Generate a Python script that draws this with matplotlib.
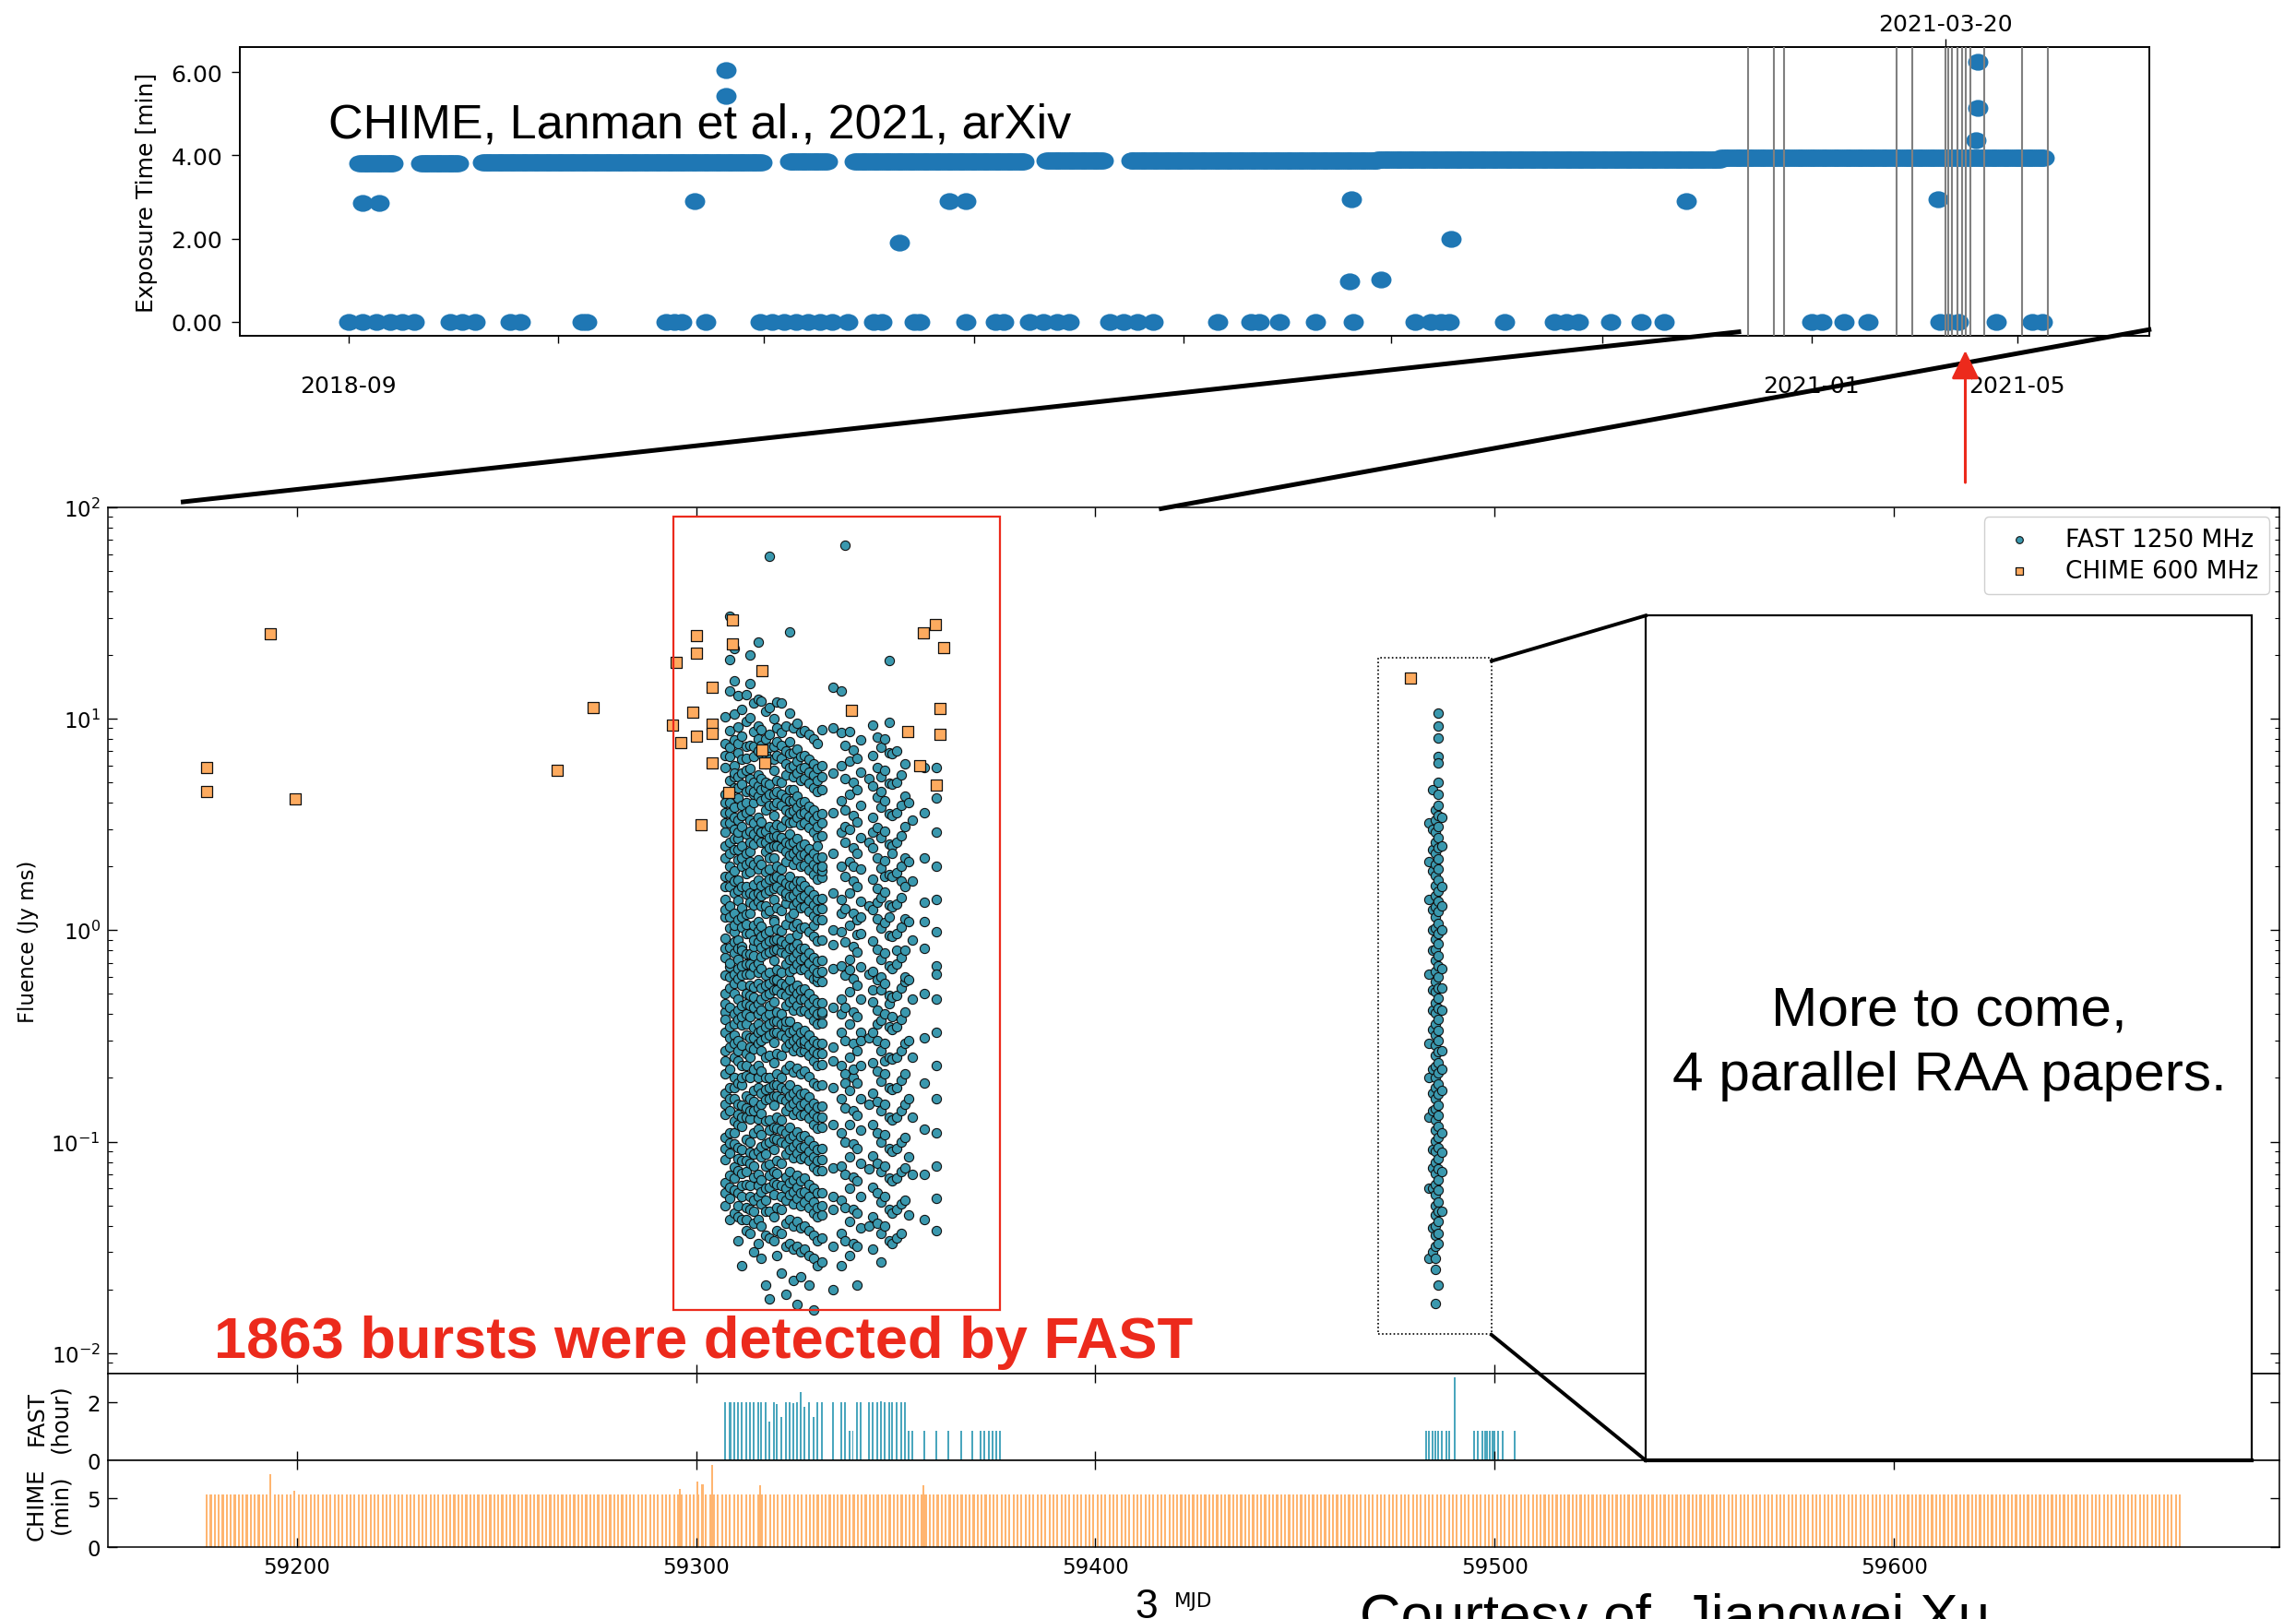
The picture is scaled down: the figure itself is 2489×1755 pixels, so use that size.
import numpy as np
import pandas as pd
import matplotlib
matplotlib.use("Agg")
import matplotlib.pyplot as plt
import matplotlib.dates as mdates
from matplotlib.lines import Line2D
from matplotlib.patches import Rectangle, FancyArrowPatch
from matplotlib.path import Path
from matplotlib.ticker import (FixedLocator, LogLocator, NullFormatter, NullLocator,
                               FuncFormatter)

# ============================ DATA ============================
# ---- top panel: CHIME daily exposure (days counted from TOP_EPOCH) ----
TOP_EPOCH = "2018-09-01"
BAND_START_DAY = [6, 42, 78, 257, 295, 407, 456, 600, 800]
BAND_END_DAY = [26, 64, 241, 279, 394, 440, 600, 800, 989]
BAND_EXPOSURE = [3.80, 3.82, 3.83, 3.85, 3.86, 3.87, 3.88, 3.91, 3.94]
ZERO_DAY = [0, 8, 16, 24, 31, 38, 59, 66, 74, 94, 100, 136, 139, 185, 190, 194, 208,
            240, 247, 254, 261, 268, 275, 282, 291, 306, 311, 330, 333, 360, 377, 382,
            397, 405, 413, 420, 444, 452, 460, 469, 507, 526, 531, 543, 564, 586, 622,
            631, 637, 642, 674, 703, 710, 717, 736, 754, 767, 853, 859, 872, 886, 928,
            933, 939, 961, 982, 988]
OTHER_DAY = [8, 18, 202, 220, 220, 321, 350, 360, 585, 780, 643, 584, 602, 927, 950, 950, 949]
OTHER_EXPOSURE = [2.86, 2.86, 2.90, 6.05, 5.44, 1.90, 2.90, 2.90, 2.95, 2.90, 1.99, 0.98,
                  1.01, 2.95, 6.26, 5.14, 4.36]
BURST_DATES = ["2020-11-25", "2020-12-10", "2020-12-16", "2021-02-20", "2021-03-01",
               "2021-03-20", "2021-03-22", "2021-03-24", "2021-03-27", "2021-03-30",
               "2021-04-01", "2021-04-04", "2021-04-12", "2021-05-04", "2021-05-19"]
TOP_LABELLED_MONTHS = ["2018-09", "2021-01", "2021-05"]
TOP_MARKED_DATE = "2021-03-20"

# ---- main panel: CHIME 600 MHz bursts ----
CHIME_MJD = [59177.4, 59177.4, 59193.5, 59199.7, 59265.2, 59274.3, 59294.1, 59295.1,
             59296.1, 59299.2, 59300.1, 59300.1, 59300.1, 59301.3, 59304.0, 59304.0,
             59304.0, 59304.0, 59309.2, 59309.2, 59308.1, 59316.4, 59316.4, 59317.2,
             59338.9, 59353.0, 59356.1, 59356.9, 59359.9, 59362.0, 59361.0, 59361.0,
             59360.2, 59478.8]
CHIME_FLUENCE = [5.9, 4.52, 25.2, 4.19, 5.7, 11.3, 9.3, 18.4, 7.67, 10.7, 24.8, 20.3, 8.26,
                 3.15, 14.1, 9.4, 8.5, 6.2, 29.2, 22.5, 4.48, 16.9, 7.08, 6.2, 10.9, 8.7,
                 5.97, 25.5, 27.8, 21.7, 11.2, 8.4, 4.86, 15.6]

# ---- main panel: FAST 1250 MHz bursts, grouped by observing day ----
FAST_DAY_MJD = [59307.33, 59308.34, 59309.49, 59310.57, 59311.50, 59312.50, 59313.43,
                59314.35, 59315.51, 59316.36, 59317.36, 59318.28, 59319.44, 59320.29,
                59321.37, 59322.45, 59323.45, 59324.30, 59325.30, 59326.23, 59327.23,
                59328.31, 59329.54, 59330.47, 59331.47, 59334.32, 59336.33, 59337.26,
                59338.41, 59339.26, 59340.34, 59341.26, 59343.27, 59344.20, 59345.28,
                59346.36, 59347.20, 59348.28, 59349.13, 59350.29, 59351.29, 59352.29,
                59353.30, 59354.07, 59357.23, 59360.24,
                59483.54, 59484.39, 59485.01, 59485.86, 59486.78]
FAST_DAY_FLUENCE = [
    [10.2, 7.6, 5.9, 4.4, 3.6, 2.9, 2.2, 1.8, 1.4, 1.15, 0.92, 0.74, 0.61, 0.5, 0.41, 0.33, 0.27, 0.21, 0.17, 0.135, 0.105, 0.082, 0.064, 0.05, 2.5, 0.38, 1.25,
     6.7, 3.2, 1.6, 0.82, 0.45, 0.24, 0.15, 0.093, 0.057, 4.0],
    [30.5, 19.0, 13.5, 8.8, 6.6, 5.1, 4.0, 3.2, 2.6, 2.0, 1.6, 1.3, 1.02, 0.83, 0.67, 0.53, 0.43, 0.35, 0.28, 0.22, 0.18, 0.14, 0.11, 0.088, 0.069, 0.054, 0.043, 0.7, 3.6,
     7.3, 4.5, 2.3, 1.15, 0.6, 0.31, 0.16, 0.099, 0.061, 1.8],
    [21.5, 15.1, 10.5, 7.9, 6.0, 4.7, 3.8, 3.0, 2.4, 1.9, 1.5, 1.2, 0.98, 0.78, 0.62, 0.5, 0.4, 0.32, 0.25, 0.2, 0.16, 0.125, 0.098, 0.076, 0.059, 0.046, 1.05, 0.29, 5.3,
     5.5, 3.4, 1.7, 0.88, 0.56, 0.36, 0.18, 0.11, 0.067, 2.7],
    [12.8, 9.1, 6.9, 5.3, 4.2, 3.3, 2.7, 2.15, 1.72, 1.38, 1.12, 0.9, 0.73, 0.59, 0.47, 0.38, 0.3, 0.24, 0.19, 0.15, 0.12, 0.094, 0.073, 0.057, 0.044, 0.034, 2.4, 0.66,
     7.6, 4.7, 2.9, 1.55, 0.82, 0.42, 0.27, 0.135, 0.083, 0.05],
    [11.0, 8.3, 6.4, 4.9, 3.9, 3.1, 2.5, 2.0, 1.6, 1.28, 1.03, 0.84, 0.68, 0.55, 0.44, 0.355, 0.285, 0.23, 0.185, 0.148, 0.118, 0.092, 0.071, 0.055, 0.043, 0.026, 0.8, 3.5,
     5.5, 3.5, 2.2, 1.15, 0.61, 0.39, 0.2, 0.13, 0.081, 0.062],
    [13.0, 9.7, 7.4, 5.7, 4.5, 3.6, 2.85, 2.3, 1.85, 1.48, 1.19, 0.96, 0.77, 0.62, 0.5, 0.4, 0.32, 0.26, 0.205, 0.165, 0.13, 0.103, 0.081, 0.063, 0.049, 0.038, 1.6, 0.45,
     6.5, 4.0, 2.05, 1.07, 0.69, 0.36, 0.23, 0.145, 0.072, 0.043],
    [19.9, 14.6, 10.1, 7.5, 5.8, 4.6, 3.7, 2.95, 2.35, 1.88, 1.5, 1.2, 0.96, 0.77, 0.62, 0.49, 0.39, 0.31, 0.25, 0.2, 0.16, 0.128, 0.1, 0.079, 0.062, 0.048, 0.037, 2.6, 0.55,
     5.2, 3.3, 2.1, 1.35, 0.69, 0.44, 0.28, 0.14, 0.089, 0.055],
    [11.8, 8.7, 6.6, 5.0, 4.0, 3.2, 2.55, 2.05, 1.64, 1.31, 1.05, 0.84, 0.67, 0.54, 0.43, 0.345, 0.275, 0.22, 0.175, 0.14, 0.11, 0.087, 0.068, 0.053, 0.041, 0.03, 4.4, 0.9,
     7.4, 4.5, 2.85, 1.47, 0.76, 0.48, 0.31, 0.155, 0.077, 0.047],
    [23.0, 12.4, 9.2, 7.0, 5.4, 4.3, 3.4, 2.7, 2.15, 1.72, 1.37, 1.1, 0.88, 0.7, 0.56, 0.45, 0.36, 0.29, 0.23, 0.18, 0.145, 0.115, 0.09, 0.07, 0.055, 0.043, 0.033, 1.5, 0.33,
     8.0, 4.8, 3.0, 1.95, 0.99, 0.63, 0.4, 0.2, 0.128, 0.062],
    [12.1, 8.9, 6.8, 5.2, 4.1, 3.25, 2.6, 2.05, 1.63, 1.3, 1.04, 0.83, 0.66, 0.53, 0.42, 0.335, 0.27, 0.215, 0.17, 0.136, 0.108, 0.085, 0.066, 0.051, 0.04, 0.028, 2.9, 0.75,
     7.5, 4.6, 2.9, 1.45, 0.93, 0.47, 0.3, 0.15, 0.095, 0.058],
    [10.8, 8.0, 6.1, 4.7, 3.7, 2.95, 2.35, 1.88, 1.5, 1.2, 0.96, 0.77, 0.61, 0.49, 0.39, 0.31, 0.25, 0.2, 0.158, 0.125, 0.098, 0.077, 0.06, 0.047, 0.036, 0.021, 5.0, 1.3,
     6.8, 4.2, 2.6, 1.68, 0.86, 0.55, 0.35, 0.176, 0.087, 0.053],
    [58.8, 11.3, 8.4, 6.4, 4.9, 3.9, 3.1, 2.45, 1.95, 1.55, 1.24, 0.99, 0.79, 0.63, 0.5, 0.4, 0.32, 0.255, 0.2, 0.16, 0.126, 0.1, 0.078, 0.061, 0.047, 0.035, 0.018, 2.2, 0.44,
     7.3, 4.4, 2.75, 1.75, 0.89, 0.56, 0.36, 0.18, 0.113, 0.069],
    [10.0, 7.4, 5.7, 4.4, 3.5, 2.8, 2.2, 1.76, 1.4, 1.12, 0.9, 0.72, 0.58, 0.46, 0.37, 0.295, 0.235, 0.186, 0.148, 0.117, 0.092, 0.072, 0.056, 0.044, 0.034, 1.1, 3.0,
     6.4, 3.9, 2.5, 1.58, 0.8, 0.52, 0.33, 0.165, 0.104, 0.064],
    [12.0, 9.0, 6.7, 5.1, 4.0, 3.15, 2.5, 2.0, 1.6, 1.27, 1.01, 0.81, 0.65, 0.52, 0.41, 0.33, 0.26, 0.21, 0.165, 0.13, 0.103, 0.081, 0.063, 0.049, 0.038, 0.029, 0.58, 1.8,
     7.8, 4.5, 2.8, 1.8, 0.91, 0.58, 0.37, 0.185, 0.116, 0.071],
    [11.9, 8.6, 6.5, 5.0, 3.9, 3.1, 2.45, 1.95, 1.55, 1.24, 0.99, 0.79, 0.63, 0.5, 0.4, 0.32, 0.255, 0.2, 0.16, 0.127, 0.1, 0.079, 0.062, 0.048, 0.037, 0.024, 2.75, 0.86,
     7.5, 4.4, 2.75, 1.75, 0.89, 0.56, 0.36, 0.18, 0.113, 0.055],
    [9.2, 7.0, 5.4, 4.2, 3.3, 2.6, 2.1, 1.68, 1.34, 1.07, 0.86, 0.69, 0.55, 0.44, 0.35, 0.28, 0.22, 0.176, 0.14, 0.11, 0.087, 0.068, 0.053, 0.041, 0.032, 0.019, 1.45, 0.37,
     6.1, 3.7, 2.35, 1.5, 0.77, 0.49, 0.31, 0.157, 0.098, 0.06],
    [25.8, 10.6, 7.8, 5.9, 4.6, 3.6, 2.85, 2.25, 1.8, 1.44, 1.15, 0.92, 0.73, 0.58, 0.46, 0.37, 0.29, 0.23, 0.185, 0.147, 0.117, 0.092, 0.072, 0.056, 0.043, 0.033, 3.2, 0.64,
     6.8, 4.1, 2.55, 1.62, 0.82, 0.52, 0.33, 0.165, 0.104, 0.064],
    [9.0, 6.9, 5.3, 4.1, 3.25, 2.6, 2.05, 1.63, 1.3, 1.04, 0.83, 0.66, 0.53, 0.42, 0.335, 0.268, 0.213, 0.17, 0.135, 0.107, 0.084, 0.066, 0.051, 0.04, 0.031, 0.022, 4.6, 1.2,
     6.0, 3.65, 2.3, 1.46, 0.74, 0.47, 0.3, 0.151, 0.095, 0.058],
    [9.5, 7.2, 5.5, 4.3, 3.4, 2.7, 2.15, 1.7, 1.36, 1.08, 0.86, 0.69, 0.55, 0.44, 0.35, 0.28, 0.222, 0.177, 0.14, 0.111, 0.088, 0.069, 0.054, 0.042, 0.032, 0.017, 0.95, 2.4,
     6.3, 3.8, 2.4, 1.53, 0.78, 0.5, 0.31, 0.158, 0.099, 0.061],
    [8.6, 6.6, 5.1, 4.0, 3.15, 2.5, 2.0, 1.6, 1.28, 1.02, 0.82, 0.65, 0.52, 0.415, 0.33, 0.265, 0.21, 0.168, 0.133, 0.106, 0.083, 0.065, 0.05, 0.039, 0.03, 0.023, 1.7, 0.47,
     5.8, 3.55, 2.25, 1.43, 0.73, 0.47, 0.295, 0.149, 0.094, 0.057],
    [8.8, 6.7, 5.2, 4.05, 3.2, 2.55, 2.03, 1.62, 1.29, 1.03, 0.82, 0.66, 0.525, 0.42, 0.335, 0.27, 0.215, 0.17, 0.135, 0.107, 0.085, 0.067, 0.052, 0.04, 0.031, 3.7, 0.29,
     5.9, 3.6, 2.28, 1.45, 0.74, 0.47, 0.3, 0.151, 0.095, 0.058],
    [8.4, 6.4, 4.95, 3.85, 3.05, 2.42, 1.93, 1.54, 1.23, 0.98, 0.78, 0.62, 0.5, 0.4, 0.32, 0.255, 0.203, 0.162, 0.129, 0.102, 0.081, 0.063, 0.049, 0.038, 0.029, 0.021, 2.2, 0.7,
     5.6, 3.45, 2.17, 1.38, 0.7, 0.45, 0.285, 0.144, 0.09, 0.055],
    [8.0, 6.1, 4.7, 3.7, 2.9, 2.3, 1.84, 1.47, 1.17, 0.93, 0.74, 0.59, 0.47, 0.375, 0.3, 0.24, 0.19, 0.152, 0.121, 0.096, 0.076, 0.06, 0.046, 0.036, 0.028, 0.016, 1.05, 3.3,
     5.4, 3.3, 2.05, 1.31, 0.66, 0.42, 0.27, 0.136, 0.085, 0.052],
    [7.6, 5.8, 4.5, 3.5, 2.75, 2.2, 1.75, 1.4, 1.12, 0.89, 0.71, 0.57, 0.455, 0.36, 0.29, 0.23, 0.183, 0.146, 0.116, 0.092, 0.073, 0.057, 0.044, 0.034, 0.026, 0.6, 2.5,
     5.1, 3.1, 1.96, 1.25, 0.63, 0.4, 0.26, 0.13, 0.081, 0.049],
    [8.9, 6.0, 4.6, 3.55, 2.8, 2.22, 1.77, 1.41, 1.12, 0.9, 0.72, 0.57, 0.455, 0.365, 0.29, 0.232, 0.185, 0.147, 0.117, 0.093, 0.073, 0.057, 0.045, 0.035, 0.027, 1.9, 0.4,
     5.3, 3.2, 2.0, 1.26, 0.64, 0.41, 0.26, 0.131, 0.082, 0.05],
    [14.0, 9.0, 5.5, 3.6, 2.3, 1.5, 1.0, 0.66, 0.43, 0.28, 0.18, 0.12, 0.075, 0.048, 0.032, 0.02, 0.85, 0.24, 0.055],
    [13.5, 8.6, 6.0, 4.1, 2.9, 2.0, 1.4, 0.98, 0.68, 0.47, 0.33, 0.23, 0.16, 0.11, 0.077, 0.053, 0.037, 0.026, 1.2, 0.4],
    [65.8, 7.5, 5.2, 3.7, 2.6, 1.8, 1.26, 0.88, 0.61, 0.43, 0.3, 0.21, 0.145, 0.1, 0.07, 0.049, 0.034, 3.1, 0.19],
    [8.7, 6.3, 4.4, 3.0, 2.1, 1.5, 1.05, 0.73, 0.51, 0.36, 0.25, 0.175, 0.12, 0.085, 0.06, 0.042, 0.029, 0.65],
    [7.1, 5.0, 3.5, 2.45, 1.7, 1.2, 0.84, 0.59, 0.41, 0.29, 0.2, 0.14, 0.098, 0.068, 0.048, 0.033, 2.0, 0.22],
    [6.5, 4.6, 3.25, 2.3, 1.6, 1.12, 0.79, 0.55, 0.39, 0.27, 0.19, 0.133, 0.093, 0.065, 0.046, 0.032, 0.021, 0.95],
    [7.9, 5.6, 3.9, 2.75, 1.95, 1.37, 0.96, 0.67, 0.47, 0.33, 0.23, 0.16, 0.113, 0.079, 0.055, 0.039, 1.15, 0.3],
    [5.2, 2.6, 1.3, 0.62, 0.31, 0.15, 0.074, 0.04],
    [9.3, 6.7, 4.8, 3.4, 2.45, 1.75, 1.25, 0.89, 0.64, 0.46, 0.33, 0.235, 0.17, 0.12, 0.086, 0.061, 0.044, 0.031, 2.9, 0.52],
    [8.2, 5.9, 4.25, 3.05, 2.2, 1.57, 1.13, 0.81, 0.58, 0.42, 0.3, 0.215, 0.155, 0.11, 0.079, 0.057, 0.041, 1.35, 0.36],
    [7.3, 5.3, 3.8, 2.75, 1.97, 1.42, 1.02, 0.73, 0.52, 0.375, 0.27, 0.194, 0.14, 0.1, 0.072, 0.052, 0.037, 0.027, 4.5, 0.6],
    [8.0, 5.7, 4.1, 2.95, 2.12, 1.52, 1.09, 0.78, 0.56, 0.4, 0.29, 0.21, 0.15, 0.108, 0.077, 0.055, 0.04, 1.8, 0.24],
    [18.8, 9.6, 6.9, 4.95, 3.55, 2.55, 1.83, 1.31, 0.94, 0.68, 0.49, 0.35, 0.25, 0.18, 0.13, 0.093, 0.067, 0.048, 0.034, 0.45, 1.15],
    [6.8, 4.9, 3.5, 2.5, 1.8, 1.29, 0.93, 0.66, 0.48, 0.34, 0.245, 0.176, 0.126, 0.09, 0.065, 0.046, 0.033, 2.3, 0.39],
    [7.0, 5.0, 3.6, 2.6, 1.86, 1.33, 0.96, 0.69, 0.49, 0.35, 0.25, 0.18, 0.13, 0.093, 0.067, 0.048, 0.035, 0.8],
    [5.4, 3.9, 2.8, 2.0, 1.43, 1.03, 0.74, 0.53, 0.38, 0.27, 0.195, 0.14, 0.1, 0.072, 0.051, 0.037, 1.7],
    [6.1, 4.3, 3.1, 2.2, 1.6, 1.13, 0.8, 0.57, 0.41, 0.29, 0.21, 0.15, 0.105, 0.075, 0.053, 0.6],
    [4.0, 2.1, 1.1, 0.58, 0.3, 0.16, 0.085, 0.045],
    [3.3, 1.7, 0.9, 0.47, 0.25, 0.13, 0.07],
    [5.9, 3.6, 2.2, 1.35, 0.82, 0.5, 0.31, 0.19, 0.115, 0.07, 0.043, 1.1],
    [5.9, 4.2, 2.9, 2.0, 1.4, 0.98, 0.68, 0.47, 0.33, 0.23, 0.16, 0.11, 0.077, 0.054, 0.038, 0.62],
    [3.2, 1.4, 0.62, 0.29, 0.13, 0.06, 0.028, 2.1, 0.2],
    [4.6, 3.0, 1.9, 1.25, 0.8, 0.52, 0.34, 0.22, 0.14, 0.092, 0.06, 0.039, 2.4, 1.0, 0.42, 0.17, 0.075, 0.03],
    [3.7, 3.3, 2.9, 2.6, 2.3, 2.05, 1.82, 1.62, 1.45, 1.29, 1.15, 1.02, 0.91, 0.81, 0.72, 0.64, 0.57, 0.51, 0.455, 0.405, 0.36, 0.32, 0.285, 0.255, 0.227, 0.202, 0.18, 0.16, 0.143, 0.127, 0.113, 0.101, 0.09, 0.08, 0.071, 0.063, 0.056, 0.05, 0.045, 0.04, 0.036, 0.032, 0.028, 0.025, 0.0172],
    [10.6, 9.2, 8.1, 6.6, 6.2, 5.0, 4.4, 3.9, 3.5, 3.1, 2.75, 2.45, 2.18, 1.94, 1.72, 1.53, 1.37, 1.22, 1.08, 0.96, 0.86, 0.76, 0.68, 0.6, 0.535, 0.475, 0.425, 0.378, 0.336, 0.3, 0.266, 0.237, 0.211, 0.188, 0.167, 0.149, 0.133, 0.118, 0.105, 0.094, 0.083, 0.074, 0.066, 0.059, 0.052, 0.047, 0.042, 0.037, 0.033, 0.021],
    [2.5, 1.6, 1.0, 0.66, 0.42, 0.27, 0.175, 0.11, 0.072, 0.047, 3.4, 1.3, 0.53, 0.22, 0.089],
]

# ---- FAST observing time per session (hours) ----
FAST_OBS_MJD = [59307.33, 59308.34, 59308.72, 59309.49, 59310.57, 59311.50, 59312.50,
                59313.43, 59314.35, 59315.51, 59316.36, 59317.36, 59318.28, 59319.44,
                59320.29, 59321.37, 59322.45, 59323.45, 59324.30, 59325.30, 59326.23,
                59327.23, 59328.31, 59329.54, 59330.47, 59331.47, 59334.32, 59336.33,
                59337.26, 59338.41, 59339.26, 59340.34, 59341.26, 59343.27, 59344.20,
                59345.28, 59346.36, 59347.20, 59348.28, 59349.13, 59350.29, 59351.29,
                59352.29, 59353.30, 59354.07, 59357.23, 59360.24, 59363.24, 59366.41,
                59369.18, 59371.19, 59372.19, 59373.35, 59374.20, 59375.27, 59376.20,
                59482.85, 59483.54, 59484.39, 59485.01, 59485.86, 59486.78, 59487.78,
                59488.55, 59489.94, 59494.88, 59495.65, 59496.88, 59497.50, 59498.12,
                59498.73, 59499.35, 59499.97, 59500.74, 59501.90, 59504.98]
FAST_OBS_HOURS = [2.0, 2.0, 2.0, 2.0, 2.0, 2.0, 2.0,
                  2.0, 2.0, 2.0, 2.0, 2.0, 1.34, 2.0,
                  1.93, 1.48, 2.0, 2.0, 1.97, 2.0, 2.33,
                  1.84, 2.0, 1.48, 2.0, 2.0, 2.0, 2.0,
                  2.0, 1.0, 1.0, 2.0, 2.0, 2.0, 2.0,
                  2.0, 2.03, 2.0, 2.0, 2.0, 2.0, 2.0,
                  2.0, 1.0, 1.0, 1.0, 1.0, 1.0, 1.0,
                  1.0, 1.0, 1.0, 1.0, 1.0, 1.0, 1.0,
                  1.0, 1.0, 1.0, 1.0, 1.0, 1.0, 1.0,
                  1.0, 2.82, 1.0, 1.0, 1.0, 1.0, 1.0,
                  1.0, 1.0, 1.0, 1.0, 1.0, 1.0]

# ---- CHIME daily exposure (minutes) ----
CHIME_DAILY_FIRST_MJD = 59177.5
CHIME_DAILY_LAST_MJD = 59671.5
CHIME_DAILY_MINUTES = 5.4
CHIME_LONG_MJD = [59193.5, 59199.5, 59296.0, 59300.4, 59301.6, 59304.0, 59316.0, 59357.0]
CHIME_LONG_MINUTES = [7.47, 5.8, 5.95, 6.74, 6.5, 8.48, 6.4, 6.4]

MAIN_XTICKS = [59200, 59300, 59400, 59500, 59600]

# ============================ STYLE ============================
FAST_COLOR = "#3a98ae"
CHIME_COLOR = "#fdab5f"
FAST_BAR_COLOR = "#4aa6bd"
CHIME_BAR_COLOR = "#ffb570"
TOP_BLUE = "#1f77b4"
RED = "#ec2a1c"
SLIDE_FONT = ["Liberation Sans", "DejaVu Sans"]

plt.rcParams["font.family"] = ["DejaVu Sans"]

W, H = 2489, 1756
fig = plt.figure(figsize=(W / 100, H / 100), dpi=100)
fig.patch.set_facecolor("white")


def fx(px):
    return px / W


def fy(py):
    return 1 - py / H


def box(l, t, r, b):
    return [fx(l), fy(b), fx(r) - fx(l), fy(t) - fy(b)]


# ============================ TOP PANEL ============================
axt = fig.add_axes(box(259.9, 52.3, 2329.7, 365))
epoch = pd.Timestamp(TOP_EPOCH)


def to_dates(days):
    return (epoch + pd.to_timedelta(np.asarray(days, dtype=float), unit="D")).values


band_days = np.concatenate([np.arange(s, e + 1) for s, e in zip(BAND_START_DAY, BAND_END_DAY)])
band_vals = np.concatenate([np.full(e - s + 1, v) for s, e, v in
                            zip(BAND_START_DAY, BAND_END_DAY, BAND_EXPOSURE)])

uc = Path.unit_circle()
ELLIPSE = Path(uc.vertices * np.array([1.2, 1.0]), uc.codes)

axt.scatter(to_dates(band_days), band_vals, s=250, marker=ELLIPSE, color=TOP_BLUE,
            linewidths=0, zorder=2)
axt.scatter(to_dates(ZERO_DAY), np.zeros(len(ZERO_DAY)), s=250, marker=ELLIPSE,
            color=TOP_BLUE, linewidths=0, zorder=2)
axt.scatter(to_dates(OTHER_DAY), OTHER_EXPOSURE, s=250, marker=ELLIPSE, color=TOP_BLUE,
            linewidths=0, zorder=2)
for d in BURST_DATES:
    axt.axvline(pd.Timestamp(d), color="#808080", lw=1.5, zorder=3)

axt.set_xlim(pd.Timestamp("2018-06-29 12:00"), pd.Timestamp("2021-07-17"))
axt.set_ylim(-0.34, 6.6)
axt.set_yticks([0, 2, 4, 6])
axt.yaxis.set_major_formatter(FuncFormatter(lambda v, p: f"{v:.2f}"))
axt.xaxis.set_major_locator(mdates.MonthLocator(bymonth=[1, 5, 9]))


def top_fmt(v, pos):
    s = mdates.num2date(v).strftime("%Y-%m")
    return s if s in TOP_LABELLED_MONTHS else ""


axt.xaxis.set_major_formatter(FuncFormatter(top_fmt))
axt.tick_params(axis="y", direction="out", length=6.5, width=1.0, labelsize=18, pad=7)
axt.tick_params(axis="x", direction="out", length=6, width=1.0, labelsize=18, pad=24)
for sp in axt.spines.values():
    sp.set_linewidth(1.4)
axt.set_ylabel("Exposure Time [min]", fontsize=18)
axt.yaxis.set_label_coords(-0.0428, 0.5)

axtt = axt.twiny()
axtt.set_xlim(axt.get_xlim())
axtt.xaxis.set_major_locator(FixedLocator([mdates.date2num(pd.Timestamp(TOP_MARKED_DATE))]))
axtt.xaxis.set_major_formatter(FuncFormatter(lambda v, p: TOP_MARKED_DATE))
axtt.xaxis.set_minor_locator(NullLocator())
axtt.tick_params(axis="x", direction="out", length=6.5, width=1.0, labelsize=18, pad=3)
for sp in axtt.spines.values():
    sp.set_visible(False)

fig.text(fx(356), fy(150), "CHIME, Lanman et al., 2021, arXiv", fontsize=37.5,
         family=SLIDE_FONT, ha="left", va="baseline", zorder=30)

# ============================ MAIN PANELS ============================
ax = fig.add_axes(box(117.2, 550.7, 2470.8, 1490))
axf = fig.add_axes(box(117.2, 1490, 2470.8, 1584.3), sharex=ax)
axc = fig.add_axes(box(117.2, 1584.3, 2470.8, 1677.8), sharex=ax)

fx_mjd = np.concatenate([np.full(len(v), d) for d, v in zip(FAST_DAY_MJD, FAST_DAY_FLUENCE)])
fx_flu = np.concatenate([np.asarray(v, float) for v in FAST_DAY_FLUENCE])
ax.scatter(fx_mjd, fx_flu, s=54, color=FAST_COLOR, edgecolors="#111111", linewidths=0.8,
           zorder=3, label="FAST 1250 MHz")
ax.scatter(CHIME_MJD, CHIME_FLUENCE, s=66, marker="s", color=CHIME_COLOR,
           edgecolors="#111111", linewidths=0.9, zorder=4, label="CHIME 600 MHz")

ax.set_yscale("log")
ax.set_ylim(0.008, 100)
ax.set_xlim(59152.8, 59696.4)
ax.yaxis.set_major_locator(LogLocator(base=10, numticks=12))
ax.yaxis.set_minor_locator(LogLocator(base=10, subs=np.arange(2, 10), numticks=12))
ax.yaxis.set_minor_formatter(NullFormatter())
ax.set_xticks(MAIN_XTICKS)
ax.xaxis.set_minor_locator(NullLocator())
ax.set_ylabel("Fluence (Jy ms)", fontsize=16.5)
ax.yaxis.set_label_coords(-0.0321, 0.5)
leg = ax.legend(loc="upper right", fontsize=19, markerscale=0.75, framealpha=1,
                edgecolor="#d0d0d0", borderpad=0.45, labelspacing=0.3,
                handletextpad=0.9, borderaxespad=0.4)

# FAST exposure
axf.bar(FAST_OBS_MJD, FAST_OBS_HOURS, width=0.45, color=FAST_BAR_COLOR, linewidth=0)
axf.set_ylim(0, 2.96)
axf.set_yticks([0, 2])
axf.set_ylabel("FAST\n(hour)", fontsize=17.5, linespacing=1.1)
axf.yaxis.set_label_coords(-0.0168, 0.5)

# CHIME exposure
chime_days = np.arange(CHIME_DAILY_FIRST_MJD, CHIME_DAILY_LAST_MJD + 0.5, 1.0)
axc.bar(chime_days, np.full(len(chime_days), CHIME_DAILY_MINUTES), width=0.5,
        color=CHIME_BAR_COLOR, linewidth=0)
axc.bar(CHIME_LONG_MJD, CHIME_LONG_MINUTES, width=0.5, color=CHIME_BAR_COLOR, linewidth=0)
axc.set_ylim(0, 8.9)
axc.set_yticks([0, 5])
axc.set_ylabel("CHIME\n(min)", fontsize=17.5, linespacing=1.1)
axc.yaxis.set_label_coords(-0.0168, 0.5)
axc.set_xlabel("MJD", fontsize=15.5, labelpad=11)

for a in (ax, axf, axc):
    a.tick_params(axis="both", which="both", direction="in", top=True, right=True)
    a.tick_params(which="major", length=7, width=1.0, labelsize=16.5)
    a.tick_params(which="minor", length=3.5, width=0.8)
    a.tick_params(axis="x", pad=7)
    a.tick_params(axis="y", pad=6)
    for sp in a.spines.values():
        sp.set_linewidth(1.1)
ax.tick_params(labelbottom=False)
axf.tick_params(labelbottom=False)

# annotation boxes inside main panel
ax.add_patch(Rectangle((59294.4, 0.01607), 81.7, 90.6 - 0.01607, fill=False,
                       edgecolor=RED, lw=1.6, zorder=5, clip_on=False))
ax.add_patch(Rectangle((59470.8, 0.01228), 28.5, 19.45 - 0.01228, fill=False,
                       edgecolor="black", lw=1.2, linestyle=(0, (1, 1.5)), zorder=5,
                       clip_on=False))

# ============================ FIGURE-LEVEL OVERLAYS ============================
def fline(xs, ys, **kw):
    fig.add_artist(Line2D([fx(x) for x in xs], [fy(y) for y in ys], **kw))


# zoom lines from the top panel to the main panel
fline([1885, 198.5], [360.7, 545], color="black", lw=3.6, zorder=10)
fline([2329.7, 1258.8], [358.3, 552.4], color="black", lw=3.6, zorder=10)

# red arrow marking 2021-03-20
fig.add_artist(FancyArrowPatch((fx(2130.5), fy(524)), (fx(2130.5), fy(381)),
                               arrowstyle="-|>,head_length=0.45,head_width=0.22",
                               mutation_scale=42, color=RED, lw=2.2,
                               shrinkA=0, shrinkB=0, transform=fig.transFigure,
                               zorder=11))

# "More to come" box and its connectors
fig.add_artist(Rectangle((fx(1784), fy(1584)), fx(2441) - fx(1784), fy(668) - fy(1584),
                         transform=fig.transFigure, facecolor="white", edgecolor="black",
                         lw=1.6, zorder=20))
fline([1784, 2441], [1584, 1584], color="black", lw=3.0, zorder=21)
fline([1617, 1784], [717.5, 668.3], color="black", lw=2.8, zorder=21)
fline([1617, 1784], [1448, 1584], color="black", lw=2.8, zorder=21)
fig.text(fx(2113), fy(1111.5), "More to come,", fontsize=43.5, family=SLIDE_FONT,
         ha="center", va="baseline", zorder=30)
fig.text(fx(2113), fy(1182), "4 parallel RAA papers.", fontsize=43.5, family=SLIDE_FONT,
         ha="center", va="baseline", zorder=30)

fig.text(fx(232), fy(1471.7), "1863 bursts were detected by FAST", fontsize=45.5,
         fontweight="bold", color=RED, family=SLIDE_FONT, ha="left", va="baseline",
         zorder=30)

fig.text(fx(1474), fy(1770.7), "Courtesy of  Jiangwei Xu", fontsize=44.5,
         family=SLIDE_FONT, ha="left", va="baseline", zorder=30)
fig.text(fx(1230), fy(1722), "3", fontsize=32, family=SLIDE_FONT, ha="left", va="top",
         zorder=30)

fig.savefig("out.png", dpi=100, facecolor="white")
